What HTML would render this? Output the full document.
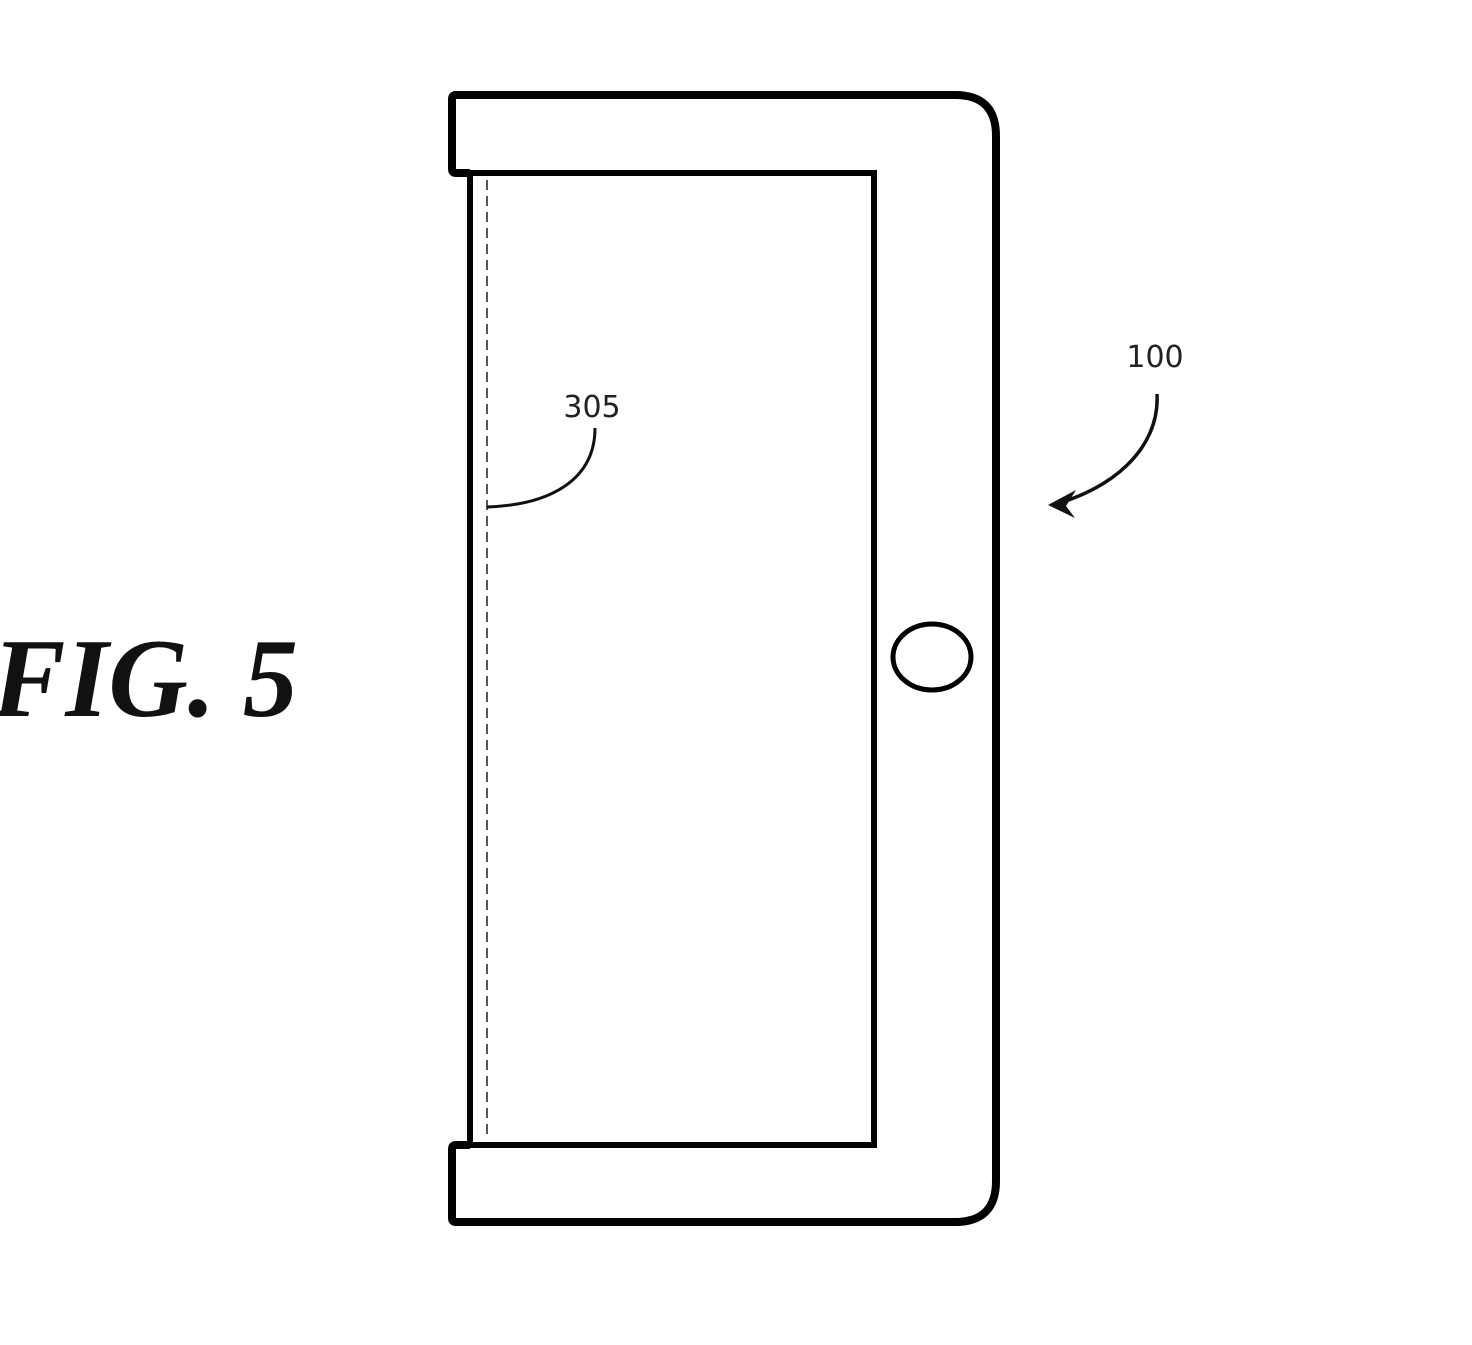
<!DOCTYPE html>
<html><head><meta charset="utf-8"><style>html,body{margin:0;padding:0;background:#fff}svg{display:block}</style></head>
<body>
<svg width="1472" height="1345" viewBox="0 0 1472 1345" xmlns="http://www.w3.org/2000/svg">
<rect width="1472" height="1345" fill="#fff"/>
<!-- outer housing -->
<path d="M 470 173 L 456 173 Q 452 173 452 169 L 452 99 Q 452 95 456 95 L 955 95 Q 996 95 996 136 L 996 1181 Q 996 1222 955 1222 L 456 1222 Q 452 1222 452 1218 L 452 1149 Q 452 1145 456 1145 L 470 1145" fill="none" stroke="#000" stroke-width="8" stroke-linejoin="round"/>
<!-- inner display -->
<path d="M 470 1145 L 470 173 L 874 173 L 874 1145 Z" fill="none" stroke="#000" stroke-width="6"/>
<!-- dashed line -->
<line x1="487" y1="180" x2="487" y2="1140" stroke="#555" stroke-width="2" stroke-dasharray="10,6"/>
<!-- button -->
<ellipse cx="932" cy="657" rx="39" ry="33" fill="none" stroke="#000" stroke-width="5"/>
<!-- 305 -->
<text x="592" y="417" font-family="'DejaVu Sans','Liberation Sans',sans-serif" font-size="30" text-anchor="middle" fill="#222">305</text>
<path d="M 595 428 C 595 480 550 505 487 507" fill="none" stroke="#111" stroke-width="3"/>
<!-- 100 -->
<text x="1155" y="367" font-family="'DejaVu Sans','Liberation Sans',sans-serif" font-size="30" text-anchor="middle" fill="#222">100</text>
<path d="M 1157 394 C 1160 450 1110 490 1052 505" fill="none" stroke="#111" stroke-width="3.5"/>
<path d="M 1048 505 L 1076 490 L 1066 506 L 1075 518 Z" fill="#111"/>
<!-- FIG. 5 -->
<text x="-8" y="716" font-family="'Liberation Serif',serif" font-weight="bold" font-style="italic" font-size="112" textLength="306" lengthAdjust="spacingAndGlyphs" fill="#111">FIG. 5</text>
</svg>
</body></html>
